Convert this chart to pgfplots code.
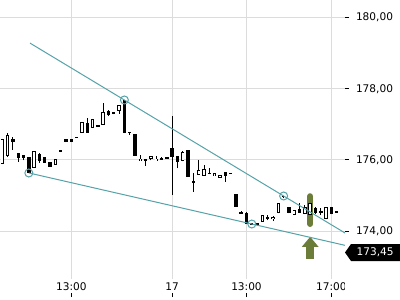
\documentclass[border=0pt]{standalone}
\usepackage{fontspec}
\setmainfont{DejaVu Sans}
\usepackage{pgfplots}
\pgfplotsset{compat=1.18}
\usepackage{pgfplotstable}
\usetikzlibrary{arrows.meta}
\definecolor{trend}{RGB}{85,162,168}
\definecolor{hl}{RGB}{108,125,58}
\definecolor{gridc}{RGB}{220,220,220}
\pgfplotstableread{
i o h l c
0 175.88 176.59 175.88 176.59
1 176.11 176.76 176.08 176.70
2 176.59 176.65 176.28 176.51
3 176.18 176.18 175.95 176.06
4 176.14 176.14 175.99 176.06
5 176.07 176.08 175.62 175.63
6 175.78 176.25 175.78 176.25
7 176.18 176.18 175.92 175.97
8 176.07 176.07 175.92 175.92
9 175.94 175.94 175.81 175.81
10 175.87 176.03 175.87 176.03
11 176.28 176.29 176.22 176.23
12 176.58 176.58 176.50 176.50
13 176.58 176.58 176.50 176.50
14 176.63 176.63 176.63 176.63
15 176.75 177.07 176.75 177.07
16 177.04 177.17 176.76 176.76
17 176.89 177.14 176.89 177.14
18 176.98 176.98 176.95 176.95
19 176.98 177.59 176.98 177.34
20 177.38 177.40 177.23 177.26
21 177.35 177.35 177.28 177.28
22 177.38 177.54 177.30 177.54
23 177.68 177.68 176.75 176.75
24 176.77 176.77 176.70 176.77
25 176.74 176.74 176.12 176.12
26 175.98 176.14 175.98 176.04
27 176.00 176.00 175.83 176.00
28 176.04 176.11 175.99 176.11
29 175.98 176.11 175.98 176.04
30 176.04 176.08 176.04 176.04
31 176.06 176.06 176.06 176.06
32 176.33 177.23 175.01 176.09
33 176.12 176.12 175.76 175.95
34 175.96 176.26 175.96 176.23
35 176.28 176.28 175.53 175.53
36 175.39 175.62 175.11 175.39
37 175.58 176.00 175.58 175.72
38 175.55 175.86 175.55 175.74
39 175.64 175.76 175.60 175.60
40 175.55 175.62 175.55 175.62
41 175.50 175.58 175.50 175.58
42 175.67 175.67 175.39 175.55
43 175.62 175.62 175.62 175.62
44 175.04 175.04 174.68 174.68
45 174.53 174.56 174.49 174.49
46 174.50 174.53 174.21 174.21
47 174.23 174.23 174.19 174.19
48 174.23 174.23 174.19 174.19
49 174.26 174.45 174.26 174.45
50 174.38 174.45 174.30 174.38
51 174.33 174.43 174.28 174.39
52 174.50 174.80 174.50 174.80
53 174.98 174.98 174.92 174.98
54 174.67 174.67 174.50 174.50
55 174.45 174.59 174.45 174.59
56 174.61 174.78 174.52 174.52
57 174.48 174.72 174.48 174.68
58 174.45 174.78 174.45 174.78
59 174.64 174.68 174.48 174.52
60 174.57 174.66 174.45 174.53
61 174.33 174.67 174.33 174.67
62 174.67 174.67 174.47 174.47
63 174.52 174.57 174.52 174.57
}\candles
\begin{document}
\begin{tikzpicture}
\begin{axis}[
  at={(0,0)}, anchor=north west, scale only axis,
  width=345bp, height=279bp,
  xmin=-0.433, xmax=64.56, ymin=172.654, ymax=180.4916,
  axis line style={draw=none},
  xtick={13,32,46,62}, xticklabels={13:00,17,13:00,17:00},
  ytick={174,176,178,180},
  ytick pos=right, xtick pos=bottom,
  grid=major, major grid style={gridc, line width=1bp},
  tick align=outside, major tick length=4bp,
  y tick style={black, line width=0.8bp},
  x tick style={black, line width=0.8bp, yshift=-14bp},
  x tick label style={yshift=3.5bp},
  y tick label style={xshift=3.5bp, /pgf/number format/.cd, fixed, fixed zerofill, precision=2, use comma},
  ticklabel style={font=\fontsize{10.6}{12}\selectfont},
  /pgf/number format/assume math mode=true,
  clip mode=individual,
]
% highlight and arrow
\addplot[hl, line width=6bp, line cap=round, forget plot] coordinates {(58,174.98) (58,174.20)};
\addplot[hl, line width=8bp, -{Triangle[width=16bp,length=10bp]}, forget plot] coordinates {(58,173.22) (58,173.84)};
% wicks
\addplot[draw=none, mark=none, forget plot, error bars/.cd, y dir=plus, y explicit, error mark=none,
  error bar style={black, line width=1bp}]
  table[x=i, y=l, y error plus expr=\thisrow{h}-\thisrow{l}] {\candles};
% bodies
\addplot[draw=none, mark=none, forget plot, error bars/.cd, y dir=both, y explicit, error mark=none,
  error bar style={black, line width=3.4bp}]
  table[x=i, y expr=(\thisrow{o}+\thisrow{c})/2, y error expr={max(abs(\thisrow{c}-\thisrow{o})/2,0.016)}] {\candles};
% hollow insides
\addplot[draw=none, mark=none, forget plot, error bars/.cd, y dir=both, y explicit, error mark=none,
  error bar style={white, line width=1.6bp}]
  table[x=i, y expr=(\thisrow{o}+\thisrow{c})/2, y error expr={(\thisrow{c}>\thisrow{o}) ? max(abs(\thisrow{c}-\thisrow{o})/2-0.027,0) : 0}] {\candles};
% trend lines
\addplot[trend, line width=1bp] coordinates {(5.22,179.281) (64.56,173.947)};
\addplot[trend, line width=1bp] coordinates {(5.03,175.632) (64.56,173.60)};
\addplot[trend, only marks, mark=o, mark size=4bp, mark options={line width=1bp}]
  coordinates {(5,175.632) (23,177.683) (47,174.199) (53,174.986)};
\end{axis}
\fill[white] (344.5bp,-280bp) rectangle (352bp,-293bp);
\fill[black] (345bp,-252.5bp) -- (351bp,-244bp) -- (400bp,-244bp) -- (400bp,-261bp) -- (351bp,-261bp) -- cycle;
\node[text=white, anchor=west, inner sep=0pt, font=\fontsize{10.6}{12}\selectfont] at (356.5bp,-252.5bp) {173,45};
\pgfresetboundingbox
\path[use as bounding box] (0,0) rectangle (400bp,-300bp);
\end{tikzpicture}
\end{document}
